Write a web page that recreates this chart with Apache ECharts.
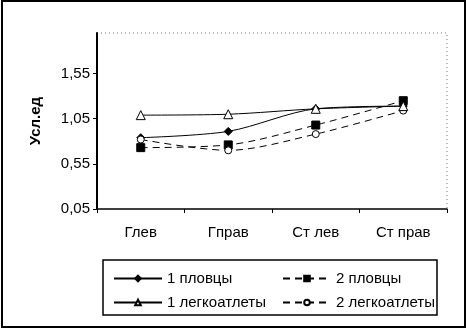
<!DOCTYPE html>
<html>
<head>
<meta charset="utf-8">
<script src="https://cdn.jsdelivr.net/npm/echarts@6/dist/echarts.min.js"></script>
<style>
	html, body { margin: 0; padding: 0; background: #fff; }
	#chart { width: 467px; height: 329px; }
</style>
</head>
<body>
<div id="chart"></div>
<script>
// categories and values
var categories = ["Глев", "Гправ", "Ст лев", "Ст прав"]
var swim1 = [0.84, 0.91, 1.16, 1.19]
var swim2 = [0.73, 0.76, 0.98, 1.25]
var track1 = [1.09, 1.10, 1.16, 1.19]
var track2 = [0.82, 0.70, 0.88, 1.14]
var yTicks = { min: 0.05, max: 2.0, step: 0.5 }

var fmt = function(v) {
	return v.toFixed(2).replace(".", ",")
}

var font = "Liberation Sans, Arial, sans-serif"

var mkSeries = function(name, data, symbol, size, dashed, hollow) {
	return {
		name: name,
		type: "line",
		data: data,
		smooth: 0.3,
		symbol: symbol,
		symbolSize: size,
		color: "#000",
		itemStyle: {
			color: hollow ? "#fff" : "#000",
			borderColor: "#000",
			borderWidth: 1
		},
		lineStyle: {
			color: "#000",
			width: 1,
			type: dashed ? [7, 5] : "solid"
		},
		emphasis: { disabled: true }
	}
}

var legendCommon = {
	orient: "vertical",
	itemWidth: 48,
	itemHeight: 7,
	itemGap: 9,
	textStyle: { fontFamily: font, fontSize: 15, color: "#000" },
	selectedMode: false
}

var chartOption = {
	animation: false,
	grid: { left: 97, right: 20, top: 33, bottom: 120 },
	xAxis: {
		type: "category",
		data: categories,
		boundaryGap: true,
		axisLine: { lineStyle: { color: "#000", width: 1.5 } },
		axisTick: { show: true, length: 4, inside: false, lineStyle: { color: "#000" } },
		axisLabel: { margin: 16, fontFamily: font, fontSize: 15, color: "#000" }
	},
	yAxis: {
		type: "value",
		min: yTicks.min,
		max: yTicks.max,
		interval: yTicks.step,
		name: "Усл.ед",
		nameLocation: "middle",
		nameGap: 54,
		nameTextStyle: { fontFamily: font, fontSize: 15, fontWeight: "bold", color: "#000" },
		splitLine: { show: false },
		axisLine: { show: true, lineStyle: { color: "#000", width: 2 } },
		axisTick: { show: true, length: 4, lineStyle: { color: "#000" } },
		axisLabel: {
			margin: 7,
			fontFamily: font,
			fontSize: 15,
			color: "#000",
			showMaxLabel: false,
			formatter: fmt
		}
	},
	legend: [
		Object.assign({ left: 108, top: 266, data: ["1 пловцы", "1 легкоатлеты"] }, legendCommon),
		Object.assign({ left: 277, top: 266, data: ["2 пловцы", "2 легкоатлеты"] }, legendCommon)
	],
	graphic: [
		{
			type: "rect",
			shape: { x: 2, y: 1, width: 463, height: 326 },
			style: { fill: "none", stroke: "#000", lineWidth: 2 },
			silent: true
		},
		{
			type: "polyline",
			shape: { points: [[97, 33], [447, 33], [447, 209]] },
			style: { fill: "none", stroke: "#777", lineWidth: 1, lineDash: [1, 3] },
			silent: true
		},
		{
			type: "rect",
			shape: { x: 103, y: 260, width: 334, height: 55 },
			style: { fill: "none", stroke: "#000", lineWidth: 1.5 },
			silent: true
		}
	],
	series: [
		mkSeries("1 пловцы", swim1, "diamond", 8, false, false),
		mkSeries("2 пловцы", swim2, "rect", 8, true, false),
		mkSeries("2 легкоатлеты", track2, "circle", 7, true, true),
		mkSeries("1 легкоатлеты", track1, "triangle", 9, false, true)
	]
}

var myChart = echarts.init(document.getElementById("chart"), null, { renderer: "canvas" })
myChart.setOption(chartOption)
</script>
</body>
</html>
